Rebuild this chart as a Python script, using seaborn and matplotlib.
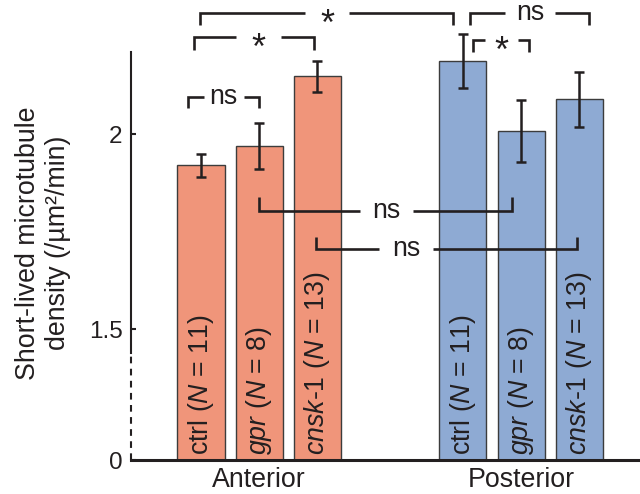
import matplotlib
matplotlib.use("Agg")
import numpy as np
import pandas as pd
import seaborn as sns
import matplotlib.pyplot as plt
from matplotlib import transforms

# ---------------- data ----------------
regions = ["Anterior", "Anterior", "Anterior", "Posterior", "Posterior", "Posterior"]
conditions = ["ctrl", "gpr", "cnsk-1", "ctrl", "gpr", "cnsk-1"]
n_embryos = [11, 8, 13, 11, 8, 13]
means = [1.920, 1.970, 2.148, 2.188, 2.008, 2.089]
sems = [0.030, 0.060, 0.040, 0.070, 0.080, 0.071]
group_labels = ["Anterior", "Posterior"]
ytick_values = [1.5, 2.0]
ytick_labels = ["0", "1.5", "2"]
# significance comparisons (bar index a, bar index b, label)
comparisons = [(0, 3, "*"), (0, 2, "*"), (0, 1, "ns"), (3, 5, "ns"),
               (3, 4, "*"), (1, 4, "ns"), (2, 5, "ns")]

# ---------------- style ----------------
sns.set_style("ticks")
plt.rcParams["font.family"] = ["Liberation Sans", "DejaVu Sans"]
plt.rcParams["mathtext.fontset"] = "custom"
plt.rcParams["mathtext.rm"] = "Liberation Sans"
plt.rcParams["mathtext.it"] = "Liberation Sans:italic"

FS = 19.3
TICK_FS = 17.5
INK = "#231f20"
palette = {"Anterior": "#F0957A", "Posterior": "#8EAAD3"}
GROUP_GAP = 1.5
Y_BREAK = 1.165      # where the axis is broken ("0" drawn here)
Y_TOP = 2.344
DASH_TOP = 1.439
SPINE_TOP = 2.211

group_idx = [group_labels.index(r) for r in regions]
pos = [i + g * GROUP_GAP for i, g in enumerate(group_idx)]

df = pd.DataFrame({"pos": pos, "mean": means, "sem": sems,
                   "region": regions, "cond": conditions, "n": n_embryos})

fig = plt.figure(figsize=(6.4, 4.94), dpi=100)
ax = fig.add_axes([131 / 640, 34 / 494, 509 / 640, 460 / 494])

sns.barplot(data=df, x="pos", y="mean", hue="region", palette=palette,
            native_scale=True, dodge=False, width=0.81, errorbar=None,
            saturation=1, edgecolor="#3c3c3c", linewidth=1.0,
            legend=False, ax=ax)

ax.errorbar(df["pos"], df["mean"], yerr=df["sem"], fmt="none",
            ecolor=INK, elinewidth=1.8, capsize=3.6, capthick=1.8, zorder=5)

ax.set_xlim(-1.203, 7.543)
ax.set_ylim(Y_BREAK, Y_TOP)

# axes / spines
sns.despine(ax=ax)
ax.spines["left"].set_bounds(DASH_TOP, SPINE_TOP)
ax.spines["left"].set_linewidth(1.5)
ax.spines["left"].set_color(INK)
ax.spines["bottom"].set_linewidth(2.2)
ax.spines["bottom"].set_color(INK)
ax.plot([0, 0], [Y_BREAK, DASH_TOP],
        transform=transforms.blended_transform_factory(ax.transAxes, ax.transData),
        ls=(0, (3.2, 2.6)), lw=1.5, color=INK, clip_on=False)

ax.set_yticks([Y_BREAK] + ytick_values, ytick_labels)
ax.tick_params(axis="y", direction="in", length=3.6, width=1.5, color=INK,
               pad=6, labelsize=TICK_FS, labelcolor=INK)
ax.set_xticks([np.mean(pos[:3]), np.mean(pos[3:])], group_labels)
ax.tick_params(axis="x", length=0, pad=5, labelsize=FS, labelcolor=INK)
ax.set_xlabel("")
ax.set_ylabel("")

fig.text(43 / 640, 1 - 243 / 494,
         "Short-lived microtubule\ndensity (/µm²/min)",
         rotation=90, ha="center", va="center", multialignment="center",
         fontsize=FS, color=INK, linespacing=1.2)

# labels inside bars
def cond_tex(c):
    if c == "ctrl":
        return "ctrl"
    return r"$\mathit{" + c.replace("-", "\u2010") + "}$"

for p, c, n in zip(pos, conditions, n_embryos):
    ax.text(p, Y_BREAK + 0.013, f"{cond_tex(c)} ($\\mathit{{N}}$ = {n})",
            rotation=90, ha="center", va="bottom", fontsize=FS, color=INK,
            zorder=6)

# significance brackets: (y level, tick end, dx at a, dx at b, label centre, half gap)
bracket_geom = [
    (2.310, 2.280, -0.017, -0.165, 2.165, 0.373),
    (2.250, 2.216, -0.120, -0.060, 0.988, 0.387),
    (2.096, 2.067, -0.220, 0.000, 0.387, 0.344),
    (2.310, 2.280, 0.125, 0.170, 5.653, 0.430),
    (2.242, 2.212, 0.165, 0.140, 5.167, 0.287),
    (1.804, 1.838, 0.000, -0.150, 3.190, 0.459),
    (1.706, 1.737, -0.030, -0.034, 3.522, 0.460),
]
for (a, b, lab), (yl, yt, da, db, xc, hg) in zip(comparisons, bracket_geom):
    xa, xb = pos[a] + da, pos[b] + db
    kw = dict(color=INK, lw=1.9, clip_on=False, zorder=7, solid_capstyle="butt",
              solid_joinstyle="miter")
    ax.plot([xa, xa, xc - hg], [yt, yl, yl], **kw)
    ax.plot([xc + hg, xb, xb], [yl, yl, yt], **kw)
    if lab == "*":
        fs = 26
        off = transforms.offset_copy(ax.transData, fig=fig, x=0,
                                     y=-(0.575 * fs + 1), units="points")
    else:
        fs = FS
        off = transforms.offset_copy(ax.transData, fig=fig, x=0,
                                     y=-(0.26 * fs), units="points")
    ax.text(xc, yl, lab, transform=off, ha="center", va="baseline",
            fontsize=fs, color=INK, zorder=8, clip_on=False)

fig.savefig("out.png", dpi=100)
